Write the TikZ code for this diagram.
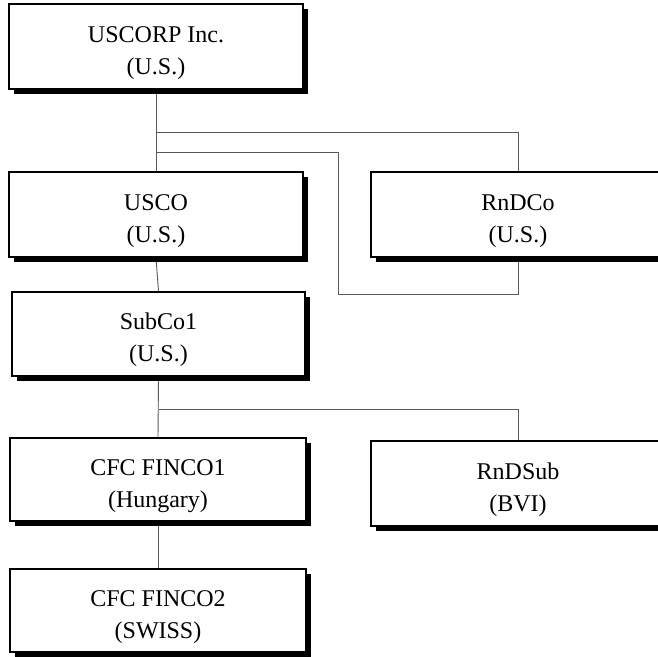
\documentclass[tikz,border=0pt]{standalone}
\usepackage{fontspec}
\setmainfont{Liberation Serif}
\usetikzlibrary{shadows,backgrounds}
\newcommand{\entrylbl}[2]{\rule{0pt}{29pt}#1\\#2}
\tikzset{
  entity/.style={draw=black, line width=1.3pt, fill=white, align=center,
    minimum width=294pt, minimum height=85pt, inner sep=0pt,
    font=\fontsize{24}{32}\selectfont,
    drop shadow={shadow xshift=4.5pt, shadow yshift=-4.5pt, fill=black, opacity=1}},
  link/.style={draw=black!65, line width=0.9pt}
}
\begin{document}
\begin{tikzpicture}[x=1pt,y=-1pt]
                \clip (0,0) rectangle (658,656);
                \node[entity] (uscorp) at (156,46.5) {\entrylbl{USCORP Inc.}{(U.S.)}};
                \node[entity] (usco) at (156,214.5) {\entrylbl{USCO}{(U.S.)}};
                \node[entity] (rndco) at (518,214.5) {\entrylbl{RnDCo}{(U.S.)}};
                \node[entity, minimum width=293pt, minimum height=84pt] (subco) at (158.5,334) {\entrylbl{SubCo1}{(U.S.)}};
                \node[entity, minimum width=296pt, minimum height=83pt] (finco1) at (158,479.5) {\entrylbl{CFC FINCO1}{(Hungary)}};
                \node[entity] (rndsub) at (518,483.5) {\entrylbl{RnDSub}{(BVI)}};
                \node[entity, minimum width=296pt, minimum height=83pt] (finco2) at (158,610.5) {\entrylbl{CFC FINCO2}{(SWISS)}};
                \coordinate (j1) at (157,132);
                \coordinate (j2) at (157,152);
                \coordinate (k1) at (338,152);
                \coordinate (k2) at (338,294);
                \coordinate (k3) at (518,294);
                \coordinate (j3) at (158.5,409);
                \begin{scope}[on background layer]
                \fill[white] (0,0) rectangle (658,656);
                \draw[link] (uscorp.south) -- (usco.north);
                \draw[link] (j1) -| (rndco.north);
                \draw[link] (j2) -- (k1) -- (k2) -- (k3) -- (rndco.south);
                \draw[link] (usco.south) -- (subco.north);
                \draw[link] (subco.south) -- (finco1.north);
                \draw[link] (j3) -| (rndsub.north);
                \draw[link] (finco1.south) -- (finco2.north);
                \end{scope}
            \end{tikzpicture}
\end{document}
